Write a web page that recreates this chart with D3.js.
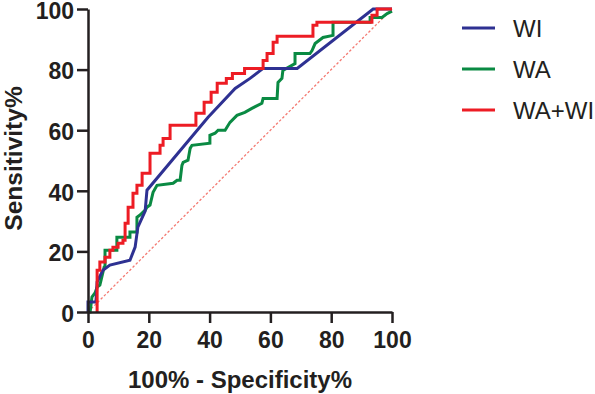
<!DOCTYPE html>
<html>
<head>
<meta charset="utf-8">
<script src="https://cdn.jsdelivr.net/npm/d3@7"></script>
<style>
  body { margin: 0; background: #fff; }
  svg { display: block; }
</style>
</head>
<body>
<div id="chart"></div>
<script>
// ROC curves, [100% - specificity, sensitivity] corner points
const wiPoints = [
    [0, 0], [0, 3.3], [2.6, 3.3], [3.0, 9.9], [4.9, 13.8], [7.2, 15.5], [13.8, 17.1],
    [15.5, 21.4], [16.4, 28], [18.8, 33.3], [19.4, 40.2], [39.5, 64.3], [48.4, 73.8],
    [53.3, 77.1], [57.6, 80.4], [68.8, 80.4], [93.8, 100], [100, 100]
];

const waPoints = [
    [0, 0], [0.7, 0], [1.3, 4.9], [2.3, 6.3], [3.0, 8.2], [3.9, 8.9], [4.3, 10.5],
    [5.3, 14.8], [5.6, 14.8], [5.6, 20.4], [9.5, 20.4], [9.5, 24.7], [13.8, 24.7],
    [13.8, 26.4], [16.1, 26.4], [16.1, 31.3], [17.1, 32.0], [18.8, 33.6], [19.4, 34.6],
    [20.4, 35.3], [21.4, 39.5], [22.7, 41.8], [28, 42.5], [29.3, 43.5], [30.3, 43.5],
    [30.9, 48.4], [31.3, 49.4], [32.9, 50.1], [33.6, 54.0], [34.2, 55.0], [40.1, 55.7],
    [40.1, 58.3], [41.8, 59.0], [42.8, 60.0], [45.1, 60.0], [46.7, 62.6], [49.0, 64.9],
    [51.6, 65.9], [53.9, 67.2], [57.2, 68.9], [57.6, 70.5], [62.2, 70.5], [62.5, 75.8],
    [63.8, 77.1], [64.1, 79.7], [68.1, 82.0], [68.1, 85.3], [73.0, 85.3], [73.7, 86.3],
    [74.7, 88.6], [77.3, 90.6], [80.6, 91.3], [80.6, 95.6], [92.8, 95.6], [92.8, 97.2],
    [96.7, 97.2], [98.4, 98.5], [100, 99.3]
];

const wawiPoints = [
    [3.0, 0], [3.0, 13.8], [3.9, 13.8], [3.9, 16.5], [5.6, 16.5], [5.6, 18.1], [7.2, 18.1],
    [7.2, 20.4], [8.2, 20.4], [8.2, 21.4], [9.9, 21.4], [9.9, 22.7], [11.5, 22.7],
    [11.5, 23.7], [12.2, 23.7], [12.2, 29.3], [13.2, 29.3], [13.2, 34.6], [14.8, 34.6],
    [14.8, 39.2], [16.1, 39.2], [16.1, 41.8], [17.8, 41.8], [17.8, 45.8], [20.4, 45.8],
    [20.4, 52.4], [23.7, 52.4], [23.7, 55.0], [24.7, 55.0], [24.7, 57.3], [27, 57.3],
    [27, 61.6], [35.5, 61.6], [35.5, 65.6], [38.2, 65.6], [38.2, 69.2], [40.5, 69.2],
    [40.5, 72.5], [42.5, 72.5], [42.5, 75.5], [45.5, 75.5], [45.5, 77.1], [47.5, 77.1],
    [47.5, 78.7], [51.5, 78.7], [51.5, 80.4], [57.6, 80.4], [57.6, 83.0], [58.9, 83.0],
    [58.9, 85.3], [60.9, 85.3], [60.9, 89.0], [62.2, 89.0], [62.2, 91.0], [74, 91.0],
    [74, 94.6], [75.3, 94.6], [75.3, 95.6], [93.4, 95.6], [93.4, 97.9], [95.1, 97.9],
    [95.1, 100], [100, 100]
];

const seriesNames = ["WI", "WA", "WA+WI"];
const seriesColors = ["#2e3192", "#0a8a43", "#ed1c24"];
const referenceLine = [[0, 0], [100, 100]];
const tickValues = [0, 20, 40, 60, 80, 100];

const width = 595;
const height = 394;
const margin = { top: 9, right: 203, bottom: 82, left: 88 };

const svg = d3.select("#chart").append("svg")
    .attr("width", width)
    .attr("height", height);

const x = d3.scaleLinear()
    .domain([0, 100])
    .range([margin.left, width - margin.right]);

const y = d3.scaleLinear()
    .domain([0, 100])
    .range([height - margin.bottom, margin.top]);

const line = d3.line()
    .x(d => x(d[0]))
    .y(d => y(d[1]));

// chance line
svg.append("path")
    .datum(referenceLine)
    .attr("d", line)
    .attr("fill", "none")
    .attr("stroke", "#f47a72")
    .attr("stroke-width", 1.3)
    .attr("stroke-dasharray", "2.5,2");

// curves, drawn WA first so WI and WA+WI sit on top as in the figure
const curves = [waPoints, wiPoints, wawiPoints];
const curveColors = [seriesColors[1], seriesColors[0], seriesColors[2]];
curves.forEach((pts, i) => {
    svg.append("path")
        .datum(pts)
        .attr("d", line)
        .attr("fill", "none")
        .attr("stroke", curveColors[i])
        .attr("stroke-width", 3)
        .attr("stroke-linejoin", "miter");
});

// axes
const xAxis = svg.append("g")
    .attr("transform", `translate(0,${y(0)})`)
    .call(d3.axisBottom(x).tickValues(tickValues).tickSize(11).tickSizeOuter(0).tickPadding(9));

const yAxis = svg.append("g")
    .attr("transform", `translate(${x(0)},0)`)
    .call(d3.axisLeft(y).tickValues(tickValues).tickSize(11).tickSizeOuter(0).tickPadding(3));

[xAxis, yAxis].forEach(ax => {
    ax.selectAll("path, line")
        .attr("stroke", "#231f20")
        .attr("stroke-width", 2.5);
    ax.selectAll("text")
        .attr("fill", "#231f20")
        .style("font-family", "'Liberation Sans', Arial, sans-serif")
        .style("font-weight", "bold")
        .style("font-size", "23px");
});
yAxis.selectAll("text").attr("dy", "0.4em");

// axis titles
svg.append("text")
    .attr("x", (x(0) + x(100)) / 2)
    .attr("y", 388)
    .attr("text-anchor", "middle")
    .attr("fill", "#231f20")
    .style("font-family", "'Liberation Sans', Arial, sans-serif")
    .style("font-weight", "bold")
    .style("font-size", "24px")
    .text("100% - Specificity%");

svg.append("text")
    .attr("transform", `translate(22,${(y(0) + y(100)) / 2 - 2}) rotate(-90)`)
    .attr("text-anchor", "middle")
    .attr("fill", "#231f20")
    .style("font-family", "'Liberation Sans', Arial, sans-serif")
    .style("font-weight", "bold")
    .style("font-size", "24.5px")
    .text("Sensitivity%");

// legend
const legend = svg.append("g")
    .attr("transform", "translate(462,28)");

seriesNames.forEach((name, i) => {
    const row = legend.append("g")
        .attr("transform", `translate(0,${i * 41})`);
    row.append("line")
        .attr("x1", 0)
        .attr("x2", 33)
        .attr("stroke", seriesColors[i])
        .attr("stroke-width", 3);
    row.append("text")
        .attr("x", 51)
        .attr("y", 9)
        .attr("fill", "#231f20")
        .style("font-family", "'Liberation Sans', Arial, sans-serif")
        .style("font-size", "24px")
        .text(name);
});
</script>
</body>
</html>
